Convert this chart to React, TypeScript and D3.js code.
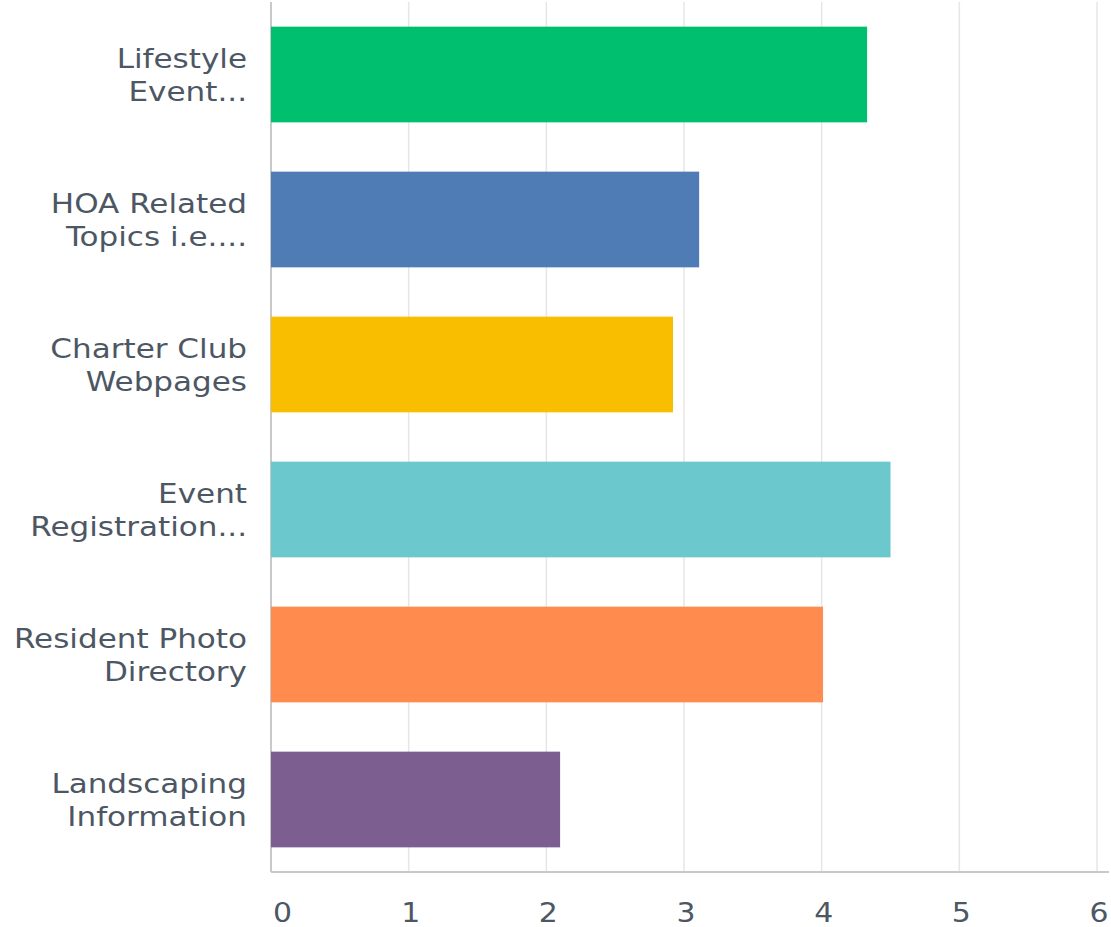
import React from "react";
import * as d3 from "d3";

const categories: string[][] = [
  ["Lifestyle", "Event..."],
  ["HOA Related", "Topics i.e...."],
  ["Charter Club", "Webpages"],
  ["Event", "Registration..."],
  ["Resident Photo", "Directory"],
  ["Landscaping", "Information"],
];
const values: number[] = [4.33, 3.11, 2.92, 4.5, 4.01, 2.1];
const colors: string[] = ["#00bf6f", "#507cb6", "#f9be00", "#6bc8cd", "#ff8b4f", "#7d5e90"];
const ticks: number[] = [0, 1, 2, 3, 4, 5, 6];

const W = 1111;
const H = 927;
const left = 271;
const right = 1097;
const top = 2;
const bottom = 872;

export default function App() {
  const x = d3.scaleLinear().domain([0, 6]).range([left, right]);
  const y = d3
    .scaleBand<number>()
    .domain(d3.range(categories.length))
    .range([top, bottom])
    .paddingInner(0.34)
    .paddingOuter(0.17);
  const textColor = "#4d5764";
  const font = "'DejaVu Sans', sans-serif";
  const sx = 1.15;
  return (
    <svg
      width={W}
      height={H}
      style={{ position: "absolute", left: 0, top: 0, background: "#fff" }}
    >
      {ticks.map((t) => (
        <line
          key={"g" + t}
          x1={x(t)}
          x2={x(t)}
          y1={top}
          y2={bottom}
          stroke={t === 0 ? "#c9c9c9" : "#e6e6e6"}
          strokeWidth={t === 0 ? 2 : 1.5}
        />
      ))}
      <line x1={left} x2={right + 12} y1={bottom} y2={bottom} stroke="#c9c9c9" strokeWidth={2} />
      {values.map((v, i) => (
        <rect
          key={"b" + i}
          x={x(0)}
          y={y(i)!}
          width={x(v) - x(0)}
          height={y.bandwidth()}
          fill={colors[i]}
        />
      ))}
      {categories.map((lines, i) => {
        const cy = y(i)! + y.bandwidth() / 2;
        return (
          <text
            key={"l" + i}
            textAnchor="end"
            fill={textColor}
            fontFamily={font}
            fontSize={27}
            transform={`translate(247,${cy}) scale(${sx},1)`}
          >
            {lines.map((ln, j) => (
              <tspan key={j} x={0} y={(j - (lines.length - 1) / 2) * 33 + 10}>
                {ln}
              </tspan>
            ))}
          </text>
        );
      })}
      {ticks.map((t) => (
        <text
          key={"t" + t}
          transform={`translate(${t === 0 ? x(t) + 2 : x(t) + 2},922) scale(${sx},1)`}
          textAnchor={t === 0 ? "start" : "middle"}
          fill={textColor}
          fontFamily={font}
          fontSize={26}
        >
          {t}
        </text>
      ))}
    </svg>
  );
}
